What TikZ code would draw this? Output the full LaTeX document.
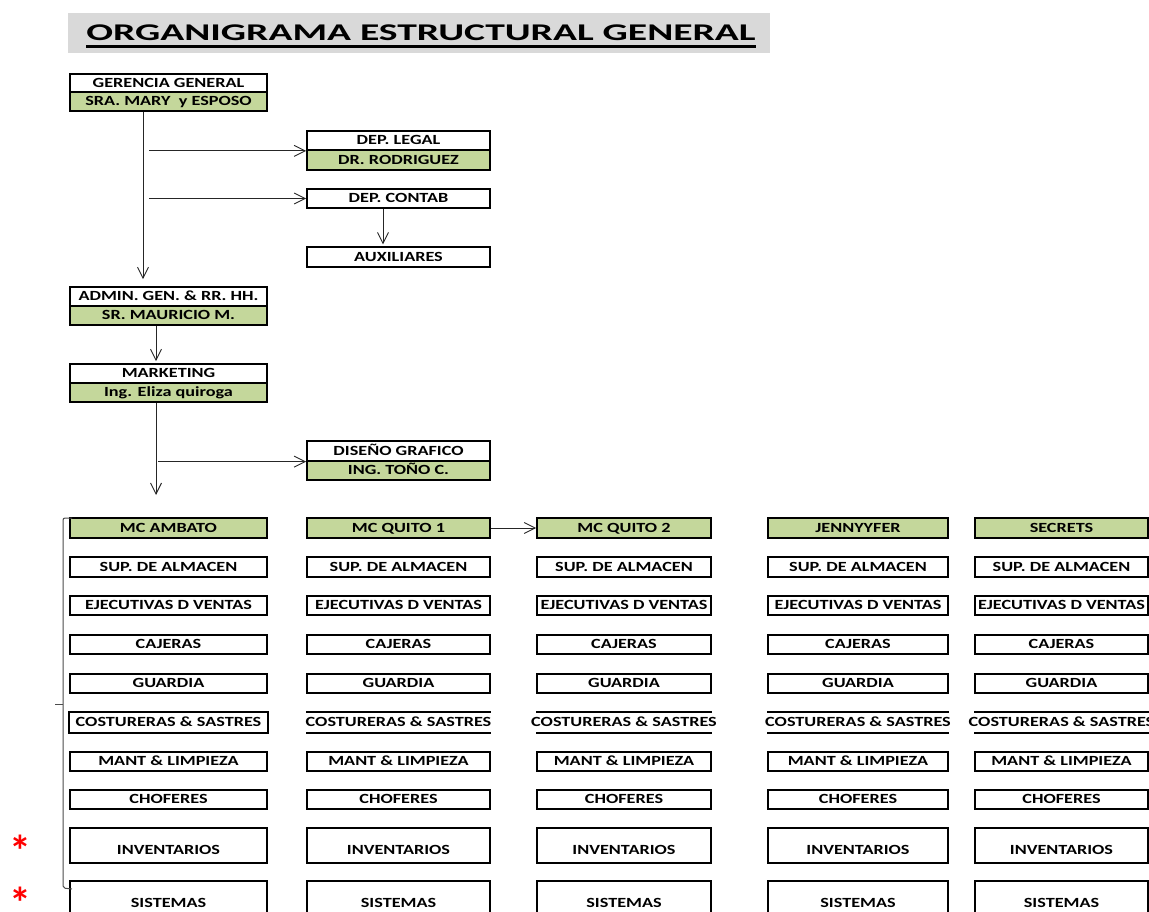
\documentclass[tikz,border=0pt]{standalone}
\usepackage{graphicx}
\usepackage{fontspec}
\setmainfont{Carlito}
\usetikzlibrary{arrows.meta}
\definecolor{cellgreen}{RGB}{196,215,155}
\definecolor{titlegray}{RGB}{217,217,217}
% box labels: widened lettering, centred, allowed to spill past the cell edges
\newcommand\ctext[1]{\makebox[0pt]{\scalebox{1.3}[1]{#1}}}
% red star marker, boxed symmetrically round the glyph
\newcommand\redstar{\raisebox{-0.533em}[0.2em][0.2em]{*}}
\begin{document}
\begin{tikzpicture}[x=1pt,y=-1pt,
  box/.style={draw=black, line width=1.7pt, inner sep=0pt, minimum height=19.5pt,
    font=\fontsize{14}{16}\selectfont\bfseries, text height=8.6pt, text depth=0pt},
  namebox/.style={box, fill=cellgreen},
  tallbox/.style={box, minimum height=35pt, text height=18pt},
  conn/.style={draw=black!85, line width=0.9pt, -{Straight Barb[length=11pt,width=11pt]}},
  bracket/.style={draw=black!70, line width=1pt},
  starmark/.style={inner sep=0pt, text=red, font=\fontsize{44}{44}\selectfont\bfseries},
]
\useasboundingbox (0,0) rectangle (1149,912);
\clip (0,0) rectangle (1149,912);
\fill[white] (0,0) rectangle (1149,912);

% title banner
\fill[titlegray] (68,13) rectangle (770,53);
\node[anchor=base, inner sep=0pt, font=\fontsize{24}{28}\selectfont\bfseries] (title) at (421,41)
  {\scalebox{1.65}[1]{ORGANIGRAMA ESTRUCTURAL GENERAL}};
\draw[line width=2.4pt] ([yshift=-5.7pt]title.base west) -- ([yshift=-5.7pt]title.base east);

% management boxes
\node[box, minimum width=197pt, minimum height=18.5pt] (gg) at (168.5,83) {\ctext{GERENCIA GENERAL}};
\node[namebox, minimum width=197pt, minimum height=19pt] (ggn) at (168.5,101.5) {\ctext{SRA. MARY\ \ y ESPOSO}};

\node[box, minimum width=183pt, minimum height=19pt] (lg) at (398.5,140.5) {\ctext{DEP. LEGAL}};
\node[namebox, minimum width=183pt, minimum height=20pt] (lgn) at (398.5,160) {\ctext{DR. RODRIGUEZ}};

\node[box, minimum width=183pt] (ct) at (398.5,198.5) {\ctext{DEP. CONTAB}};
\node[box, minimum width=183pt] (ax) at (398.5,257) {\ctext{AUXILIARES}};

\node[box, minimum width=197pt, minimum height=19pt] (ad) at (168.5,296.5) {\ctext{ADMIN. GEN. \& RR. HH.}};
\node[namebox, minimum width=197pt, minimum height=19pt] (adn) at (168.5,315.5) {\ctext{SR. MAURICIO M.}};

\node[box, minimum width=197pt, minimum height=19pt] (mk) at (168.5,373.5) {\ctext{MARKETING}};
\node[namebox, minimum width=197pt, minimum height=19pt] (mkn) at (168.5,392.5) {\ctext{Ing. Eliza quiroga}};

\node[box, minimum width=183pt, minimum height=19.5pt] (dg) at (398.5,451) {\ctext{DISEÑO GRAFICO}};
\node[namebox, minimum width=183pt, minimum height=19pt] (dgn) at (398.5,470.5) {\ctext{ING. TOÑO C.}};

% store columns
\foreach \cx/\cw/\k/\hd in {168.5/197/1/MC AMBATO, 398.5/183/2/MC QUITO 1, 624/174/3/MC QUITO 2, 858/180/4/JENNYYFER, 1061.5/173/5/SECRETS} {
  \node[namebox, minimum width=\cw pt] (h\k) at (\cx,528) {\ctext{\hd}};
  \node[box, minimum width=\cw pt] (sup\k) at (\cx,567) {\ctext{SUP. DE ALMACEN}};
  \node[box, minimum width=\cw pt] (eje\k) at (\cx,605.5) {\ctext{EJECUTIVAS D VENTAS}};
  \node[box, minimum width=\cw pt] (caj\k) at (\cx,644.5) {\ctext{CAJERAS}};
  \node[box, minimum width=\cw pt] (gua\k) at (\cx,683.5) {\ctext{GUARDIA}};
  \node[box, draw=none, minimum width=\cw pt] (cos\k) at (\cx,722.5) {\ctext{COSTURERAS \& SASTRES}};
  \ifnum\k=1
    \draw[line width=1.7pt] (cos\k.north west) rectangle (cos\k.south east);
  \else
    \draw[line width=1.7pt] (cos\k.north west) -- (cos\k.north east)
                            (cos\k.south west) -- (cos\k.south east);
  \fi
  \node[box, minimum width=\cw pt] (man\k) at (\cx,761.5) {\ctext{MANT \& LIMPIEZA}};
  \node[box, minimum width=\cw pt] (cho\k) at (\cx,799.5) {\ctext{CHOFERES}};
  \node[tallbox, minimum width=\cw pt] (inv\k) at (\cx,845.5) {\ctext{INVENTARIOS}};
  \node[tallbox, minimum width=\cw pt] (sis\k) at (\cx,898.5) {\ctext{SISTEMAS}};
}

% reporting lines
\coordinate (trunkA) at (143,0);
\coordinate (tapA) at (149,0);
\coordinate (tapB) at (383,0);
\coordinate (trunkB) at (156,0);
\coordinate (tapC) at (158,0);
\coordinate (branches) at (156,495);

\draw[conn, shorten >=7pt] (ggn.south -| trunkA) -- (ad.north -| trunkA);
\draw[conn] (tapA |- lg.south) -- (lg.south west);
\draw[conn] (tapA |- ct.west) -- (ct.west);
\draw[conn, shorten >=2pt] (ct.south -| tapB) -- (ax.north -| tapB);
\draw[conn, shorten >=2pt] (adn.south -| trunkB) -- (mk.north -| trunkB);
\draw[conn] (mkn.south -| trunkB) -- (branches);
\draw[conn] (tapC |- dg.south) -- (dg.south west);
\draw[conn] (h2.east) -- (h3.west);

% brace grouping the first store column
\draw[bracket, rounded corners=2pt] (72,518) -- (63,518) -- (63,888) -- (72,889);
\draw[bracket] (63,704) -- (55,704);

% red markers
\node[starmark] (ast1) at (20.7,843) {\redstar};
\node[starmark] (ast2) at (20.7,895) {\redstar};
\end{tikzpicture}
\end{document}
